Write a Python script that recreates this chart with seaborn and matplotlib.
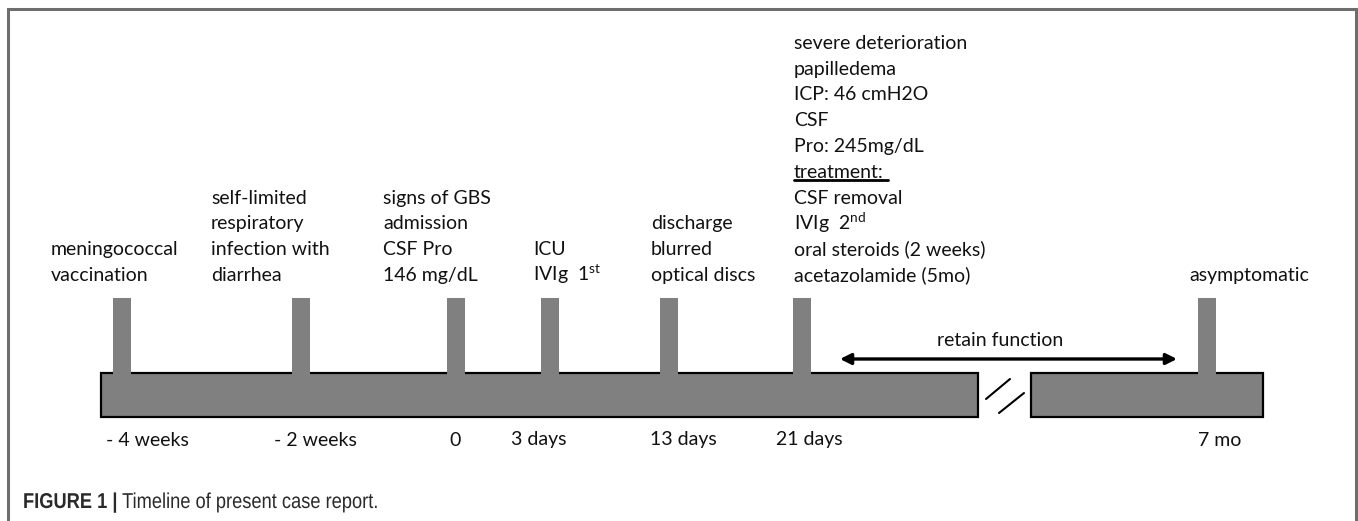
"""
Timeline of present case report (schematic figure).

Drawn on one full-figure axes whose units are pixels, so the
layout numbers below can be read straight off the reference.
"""

import matplotlib.pyplot as plt
import seaborn as sns
from matplotlib.font_manager import FontProperties
from matplotlib.patches import PathPatch
from matplotlib.textpath import TextPath
from matplotlib.transforms import Affine2D

# --- data -------------------------------------------------------------
# time points along the (schematic) timeline
time_labels = ["- 4 weeks", "- 2 weeks", "0", "3 days", "13 days", "21 days", "7 mo"]
event_x = [122, 301, 456, 550, 669, 802, 1207]

event_text = [
    ["meningococcal", "vaccination"],
    ["self-limited", "respiratory", "infection with", "diarrhea"],
    ["signs of GBS", "admission", "CSF Pro", "146 mg/dL"],
    ["ICU", r"IVIg  1$^{\mathregular{st}}$"],
    ["discharge", "blurred", "optical discs"],
    ["severe deterioration", "papilledema", "ICP: 46 cmH2O", "CSF",
     "Pro: 245mg/dL", "treatment:", "CSF removal", r"IVIg  2$^{\mathregular{nd}}$",
     "oral steroids (2 weeks)", "acetazolamide (5mo)"],
    ["asymptomatic"],
]

span_label = "retain function"
caption_bold = "FIGURE 1 |"
caption_text = "Timeline of present case report."

# --- layout (pixels) --------------------------------------------------
W, H = 1358, 521
text_left = [51, 211, 383, 533, 651, 794, 1189]
label_x = [147, 315, 455, 539, 683, 809, 1220]
bar_segments = [(101, 978), (1031, 1263)]
bar_top, bar_bottom = 373, 417
stub_top, stub_w = 298, 18
last_baseline, line_step = 281, 25.8

GRAY = "#808080"
INK = "#111111"
CAP_INK = "#2a2a2a"

sns.set_theme(style="white")
plt.rcParams["font.family"] = ["Lato", "DejaVu Sans"]

fig = plt.figure(figsize=(W / 100, H / 100), dpi=100)
ax = fig.add_axes([0, 0, 1, 1])
ax.set_xlim(0, W)
ax.set_ylim(H, 0)
ax.axis("off")

# outer frame (open at the bottom)
ax.plot([8, 8, 1356, 1356], [H, 9, 9, H], color="#6e6e6e", lw=2.2,
        solid_joinstyle="miter")

# main timeline bar, broken in two
for x0, x1 in bar_segments:
    ax.barh((bar_top + bar_bottom) / 2, x1 - x0, left=x0,
            height=bar_bottom - bar_top, color=GRAY, edgecolor="black",
            linewidth=1.6, zorder=2)

# break marks
ax.plot([986, 1010], [399, 379], color="black", lw=1.5)
ax.plot([999, 1024], [413, 393], color="black", lw=1.5)

# event stubs
ax.bar(event_x, bar_top + 1.5 - stub_top, bottom=stub_top, width=stub_w,
       color=GRAY, linewidth=0, zorder=3)

# time labels under the bar
for x, lab in zip(label_x, time_labels):
    ax.text(x, 440, lab, ha="center", va="center", fontsize=14, color=INK)

# event descriptions, bottom aligned above the stubs
for x, lines in zip(text_left, event_text):
    n = len(lines)
    for i, line in enumerate(lines):
        y = last_baseline - (n - 1 - i) * line_step
        ax.text(x, y, line, ha="left", va="baseline", fontsize=14, color=INK)

# underline for "treatment:"
ax.plot([794, 888], [180, 180], color="black", lw=2)

# retain function span
ax.annotate("", xy=(1177, 359), xytext=(840, 359),
            arrowprops=dict(arrowstyle="<|-|>", color="black", lw=2.4,
                            mutation_scale=16, shrinkA=0, shrinkB=0))
ax.text(1000, 341, span_label, ha="center", va="center", fontsize=14, color=INK)


# caption, in a horizontally condensed sans (like Helvetica Condensed)
def condensed_text(x, baseline, s, weight="normal", size=21.5, squeeze=0.85):
    fp = FontProperties(family="Liberation Sans", weight=weight)
    path = TextPath((0, 0), s, size=size, prop=fp)
    tr = Affine2D().scale(squeeze, -1).translate(x, baseline)
    ax.add_patch(PathPatch(tr.transform_path(path), facecolor=CAP_INK,
                           edgecolor="none"))
    return x + path.get_extents().x1 * squeeze


end = condensed_text(23, 508, caption_bold, weight="bold")
condensed_text(end + 6, 508, caption_text)

fig.savefig("out.png", dpi=100)
